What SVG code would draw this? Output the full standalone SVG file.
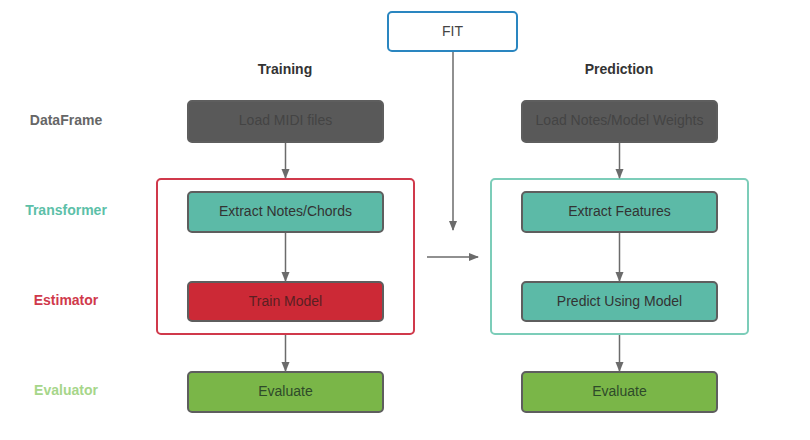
<svg xmlns="http://www.w3.org/2000/svg" width="810" height="440" viewBox="0 0 810 440">
<defs>
<style>
text{font-family:"Liberation Sans",Arial,sans-serif;font-size:14px;text-anchor:middle}
.b{font-weight:bold}
.box{stroke:#5e5e5e;stroke-width:2}
.conn{stroke:#6b6b6b;stroke-width:1.5;fill:none}
</style>
<marker id="ah" markerWidth="10" markerHeight="10" refX="9" refY="5" orient="auto" markerUnits="userSpaceOnUse">
<path d="M0,1 L10,5 L0,9 Z" fill="#6b6b6b"/>
</marker>
</defs>
<rect width="810" height="440" fill="#fff"/>
<g id="labels">
<text class="b" x="285" y="74" fill="#333">Training</text>
<text class="b" x="619" y="74" fill="#333">Prediction</text>
<text class="b" x="66" y="125" fill="#666">DataFrame</text>
<text class="b" x="66" y="215" fill="#5cc0a8">Transformer</text>
<text class="b" x="66" y="305" fill="#d0394b">Estimator</text>
<text class="b" x="66" y="395" fill="#a6d68a">Evaluator</text>
</g>
<g id="training-container"><rect x="157" y="179" width="257" height="155" rx="4" fill="none" stroke="#d0394b" stroke-width="2"/></g>
<g id="prediction-container"><rect x="491" y="179" width="257" height="155" rx="4" fill="none" stroke="#7ccdb9" stroke-width="2"/></g>
<g id="fit"><rect x="388" y="12" width="129" height="39" rx="4" fill="#fff" stroke="#2a86c0" stroke-width="2"/><text x="452.5" y="36" fill="#444">FIT</text></g>
<g id="load-midi"><rect class="box" x="188" y="101" width="195" height="41" rx="4" fill="#595959"/><text x="285.5" y="125" fill="#444">Load MIDI files</text></g>
<g id="extract-notes"><rect class="box" x="188" y="192" width="195" height="40" rx="4" fill="#5cbaa7"/><text x="285.5" y="216" fill="#333">Extract Notes/Chords</text></g>
<g id="train-model"><rect class="box" x="188" y="282" width="195" height="39" rx="4" fill="#cc2936"/><text x="285.5" y="306" fill="#5a1f22">Train Model</text></g>
<g id="evaluate-left"><rect class="box" x="188" y="372" width="195" height="40" rx="4" fill="#7ab648"/><text x="285.5" y="396" fill="#2e4a2a">Evaluate</text></g>
<g id="load-weights"><rect class="box" x="522" y="101" width="195" height="41" rx="4" fill="#595959"/><text x="619.5" y="125" fill="#444">Load Notes/Model Weights</text></g>
<g id="extract-features"><rect class="box" x="522" y="192" width="195" height="40" rx="4" fill="#5cbaa7"/><text x="619.5" y="216" fill="#333">Extract Features</text></g>
<g id="predict"><rect class="box" x="522" y="282" width="195" height="39" rx="4" fill="#5cbaa7"/><text x="619.5" y="306" fill="#333">Predict Using Model</text></g>
<g id="evaluate-right"><rect class="box" x="522" y="372" width="195" height="40" rx="4" fill="#7ab648"/><text x="619.5" y="396" fill="#2e4a2a">Evaluate</text></g>
<g id="connectors">
<line class="conn" x1="285.5" y1="143" x2="285.5" y2="178" marker-end="url(#ah)"/>
<line class="conn" x1="285.5" y1="233" x2="285.5" y2="281" marker-end="url(#ah)"/>
<line class="conn" x1="285.5" y1="335" x2="285.5" y2="371" marker-end="url(#ah)"/>
<line class="conn" x1="619.5" y1="143" x2="619.5" y2="178" marker-end="url(#ah)"/>
<line class="conn" x1="619.5" y1="233" x2="619.5" y2="281" marker-end="url(#ah)"/>
<line class="conn" x1="619.5" y1="335" x2="619.5" y2="371" marker-end="url(#ah)"/>
<line class="conn" x1="453" y1="52" x2="453" y2="230" marker-end="url(#ah)"/>
<line class="conn" x1="427" y1="257" x2="478" y2="257" marker-end="url(#ah)"/>
</g>
</svg>
